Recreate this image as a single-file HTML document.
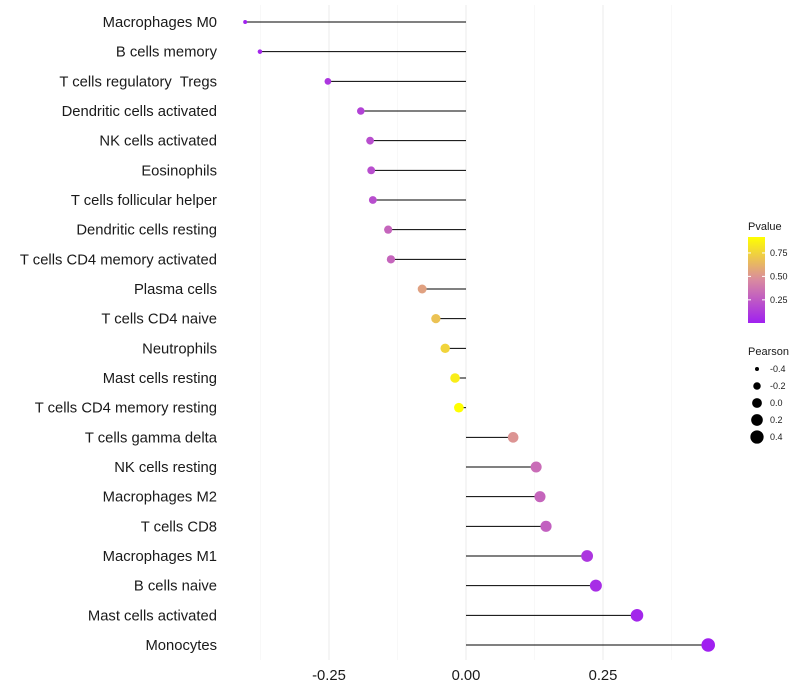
<!DOCTYPE html>
<html><head><meta charset="utf-8"><style>
body{margin:0;background:#fff;}
svg{display:block;font-family:"Liberation Sans",Arial,sans-serif;}
text{white-space:pre;}
</style></head><body>
<svg id="chart" width="800" height="700">
<defs><linearGradient id="pg" x1="0" y1="1" x2="0" y2="0">
<stop offset="0" stop-color="#A020F0"/><stop offset="0.5" stop-color="#D98AA0"/><stop offset="1" stop-color="#FFFF00"/>
</linearGradient></defs>
<g id="grid"></g><g id="marks"></g><g id="labels"></g>
<g>
<text x="748" y="230" font-size="11" fill="#1a1a1a">Pvalue</text>
<rect x="748" y="237" width="17" height="86" fill="url(#pg)"/>
<g id="cbticks"></g>
<text x="748" y="355" font-size="11" fill="#1a1a1a">Pearson</text>
<g id="sizelegend"></g>
</g>
</svg>
<script>
const categories=["Macrophages M0","B cells memory","T cells regulatory  Tregs","Dendritic cells activated","NK cells activated","Eosinophils","T cells follicular helper","Dendritic cells resting","T cells CD4 memory activated","Plasma cells","T cells CD4 naive","Neutrophils","Mast cells resting","T cells CD4 memory resting","T cells gamma delta","NK cells resting","Macrophages M2","T cells CD8","Macrophages M1","B cells naive","Mast cells activated","Monocytes"];
const pearson=[-0.403,-0.376,-0.252,-0.192,-0.175,-0.173,-0.170,-0.142,-0.137,-0.080,-0.055,-0.038,-0.020,-0.013,0.086,0.128,0.135,0.146,0.221,0.237,0.312,0.442];
const pvalue=[0.01,0.03,0.10,0.15,0.20,0.20,0.20,0.30,0.30,0.55,0.68,0.75,0.85,0.92,0.50,0.33,0.30,0.28,0.10,0.06,0.03,0.003];
const xTicks=[-0.25,0,0.25];
const xTickLabels=["-0.25","0.00","0.25"];
const cbTicks=[0.25,0.5,0.75];
const cbTickLabels=["0.25","0.50","0.75"];
const sizeVals=[-0.4,-0.2,0,0.2,0.4];
const sizeLabels=["-0.4","-0.2","0.0","0.2","0.4"];
const NS="http://www.w3.org/2000/svg";
const xs=v=>466+v*548;
const ys=i=>22+i*(623/21);
const pmin=Math.min(...pvalue), pmax=Math.max(...pvalue);
function lerp(a,b,t){return a+(b-a)*t;}
function hex(h){return [parseInt(h.slice(1,3),16),parseInt(h.slice(3,5),16),parseInt(h.slice(5,7),16)];}
const stops=[hex("#A020F0"),hex("#D98AA0"),hex("#FFFF00")];
function col(p){let t=(p-pmin)/(pmax-pmin);t=Math.max(0,Math.min(1,t));let a,b,u;if(t<0.5){a=stops[0];b=stops[1];u=t*2;}else{a=stops[1];b=stops[2];u=(t-0.5)*2;}return "rgb("+[0,1,2].map(k=>Math.round(lerp(a[k],b[k],u))).join(",")+")";}
const rs=v=>Math.sqrt(lerp(4,44,(v+0.4)/0.8));
function mk(tag,attrs,parent){const e=document.createElementNS(NS,tag);for(const k in attrs)e.setAttribute(k,attrs[k]);parent.appendChild(e);return e;}
const grid=document.getElementById("grid"),marks=document.getElementById("marks"),labels=document.getElementById("labels");
[-0.375,-0.125,0.125,0.375].forEach(v=>{const l=mk("line",{x1:xs(v),x2:xs(v),y1:5,y2:660,stroke:"#f3f3f3","stroke-width":0.6},grid);

});
xTicks.forEach((v,i)=>{const l=mk("line",{x1:xs(v),x2:xs(v),y1:5,y2:660,stroke:"#ebebeb","stroke-width":1},grid);


const t=mk("text",{x:xs(v),y:680,"text-anchor":"middle","font-size":14.8,fill:"#1a1a1a"},labels);t.textContent=xTickLabels[i];

});
categories.forEach((c,i)=>{const y=ys(i);
const t=mk("text",{x:217,y:y+5,"text-anchor":"end","font-size":14.8,fill:"#1a1a1a"},labels);t.textContent=c;


const l=mk("line",{x1:xs(0),x2:xs(pearson[i]),y1:y,y2:y,stroke:"#000","stroke-width":1},marks);


const p=mk("circle",{cx:xs(pearson[i]),cy:y,r:rs(pearson[i]),fill:col(pvalue[i])},marks);

});
const cb=document.getElementById("cbticks");
cbTicks.forEach((v,i)=>{const y=323-(v-pmin)/(pmax-pmin)*86;
const l=mk("line",{x1:748,x2:751,y1:y,y2:y,stroke:"#fff"},cb);

const l2=mk("line",{x1:762,x2:765,y1:y,y2:y,stroke:"#fff"},cb);

const t=mk("text",{x:770,y:y+3,"font-size":9,fill:"#1a1a1a"},cb);t.textContent=cbTickLabels[i];

});
const sl=document.getElementById("sizelegend");
sizeVals.forEach((v,i)=>{const y=369+i*17;
const c=mk("circle",{cx:757,cy:y,r:rs(v),fill:"#000"},sl);

const t=mk("text",{x:770,y:y+3,"font-size":9,fill:"#1a1a1a"},sl);t.textContent=sizeLabels[i];

});
</script>
</body></html>
